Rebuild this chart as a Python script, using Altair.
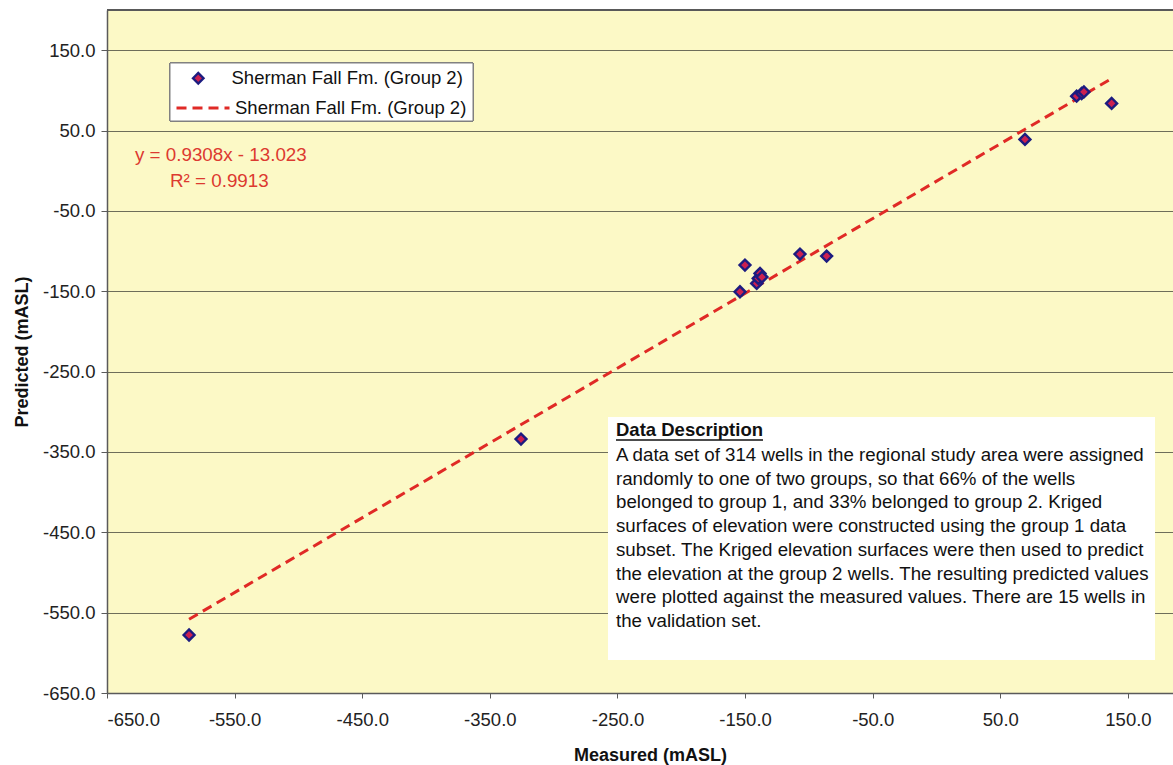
import altair as alt
import pandas as pd

# ---------------- data ----------------
measured = [-585.7, -325.6, -154.0, -150.1, -140.9, -139.7, -138.3, -136.8,
            -107.0, -86.1, 69.3, 109.8, 113.7, 115.5, 137.2]
predicted = [-577.8, -334.0, -150.7, -117.5, -140.3, -134.0, -127.8, -132.4,
             -103.8, -106.3, 38.9, 92.8, 96.1, 98.1, 83.7]
series_name = "Sherman Fall Fm. (Group 2)"
slope = 0.9308
intercept = -13.023
r_squared = 0.9913
x_ticks = [-650, -550, -450, -350, -250, -150, -50, 50, 150]
y_ticks = [-650, -550, -450, -350, -250, -150, -50, 50, 150]
description_title = "Data Description"
description_lines = [
    "A data set of 314 wells in the regional study area were assigned",
    "randomly to one of two groups, so that 66% of the wells",
    "belonged to group 1, and  33% belonged to group 2.  Kriged",
    "surfaces of elevation were constructed using the group 1 data",
    "subset.  The Kriged elevation surfaces were then used to predict",
    "the elevation at the group 2 wells. The resulting predicted values",
    "were plotted against the measured values. There are 15 wells in",
    "the validation set.",
]

# ---------------- frames ----------------
pts = pd.DataFrame({"measured": measured, "predicted": predicted,
                    "series": [series_name] * len(measured)})
x_ends = [min(measured), max(measured)]
fit = pd.DataFrame({"measured": x_ends,
                    "predicted": [slope * v + intercept for v in x_ends],
                    "fit": [series_name, series_name]})

W, H = 1066, 683
FONT = "Liberation Sans"
RED = "#e02a26"
EQ_RED = "#dc3a30"
NAVY = "#1c1c80"
PFILL = "#cc2050"
LABEL_EXPR = "(datum.value < 0 ? '-' : '') + format(abs(datum.value), '.1f')"

xscale = alt.Scale(domain=[-650, 185.3], nice=False, zero=False)
yscale = alt.Scale(domain=[-650, 200], nice=False, zero=False)

x_axis = alt.Axis(values=x_ticks, labelExpr=LABEL_EXPR, title="Measured (mASL)", grid=False,
                  domainColor="#5a5a5a", domainWidth=1.5, tickColor="#5a5a5a", tickSize=5,
                  labelFontSize=18.5, labelPadding=12, labelColor="#222222",
                  titleFontSize=18, titleFontWeight="bold", titleColor="#111111",
                  titleX=543, titleY=67, titleBaseline="alphabetic", titleAlign="center")
y_axis = alt.Axis(values=y_ticks, labelExpr=LABEL_EXPR, title="Predicted (mASL)", grid=True,
                  gridColor="#6e6e5a", gridWidth=1,
                  domainColor="#5a5a5a", domainWidth=1.5, tickColor="#5a5a5a", tickSize=6,
                  labelFontSize=18.5, labelPadding=6, labelColor="#222222",
                  titleFontSize=18, titleFontWeight="bold", titleColor="#111111",
                  titleX=-85, titleY=H / 2, titleAngle=270, titleBaseline="middle",
                  titleAlign="center")

base_axes = alt.Chart(pts).mark_point(opacity=0).encode(
    x=alt.X("measured:Q", scale=xscale, axis=x_axis),
    y=alt.Y("predicted:Q", scale=yscale, axis=y_axis),
)

top_border = alt.Chart(pts).mark_rule(color="#5a5a5a", strokeWidth=1.5).encode(
    x=alt.value(0), x2=alt.value(W), y=alt.value(0))

legend_box = alt.Chart(pts).mark_rect(fill="white", stroke="#808080", strokeWidth=1).encode(
    x=alt.value(63), x2=alt.value(366), y=alt.value(53), y2=alt.value(111))

desc_box = alt.Chart(pts).mark_rect(fill="white").encode(
    x=alt.value(501), x2=alt.value(1048), y=alt.value(407), y2=alt.value(650))

trend = alt.Chart(fit).mark_line(color=RED, strokeWidth=3, clip=True).encode(
    x=alt.X("measured:Q", scale=xscale),
    y=alt.Y("predicted:Q", scale=yscale),
    strokeDash=alt.StrokeDash("fit:N", scale=alt.Scale(range=[[10, 6]]),
                              legend=alt.Legend(orient="none", legendX=68, legendY=70,
                                                title=None, symbolType="stroke",
                                                symbolSize=2809, symbolStrokeColor=RED,
                                                symbolStrokeWidth=3, labelFontSize=18.5,
                                                labelFont=FONT, labelColor="#111111",
                                                labelOffset=4, labelLimit=500, padding=0)),
)

pt_legend = alt.Legend(orient="none", legendX=82, legendY=59, title=None, symbolSize=110,
                       symbolStrokeWidth=2.4, symbolOpacity=1,
                       labelFontSize=18.5, labelFont=FONT, labelColor="#111111",
                       labelOffset=24, labelLimit=500, padding=0)

points = alt.Chart(pts).mark_point(shape="diamond", filled=True, strokeWidth=2.4, size=120,
                                   opacity=1).encode(
    x=alt.X("measured:Q", scale=xscale),
    y=alt.Y("predicted:Q", scale=yscale),
    shape=alt.Shape("series:N", scale=alt.Scale(range=["diamond"]), legend=pt_legend),
    fill=alt.Fill("series:N", scale=alt.Scale(range=[PFILL]), legend=pt_legend),
    stroke=alt.Stroke("series:N", scale=alt.Scale(range=[NAVY]), legend=pt_legend),
)

eq_df = pd.DataFrame({"t": [f"y = {slope:.4f}x - {abs(intercept):.3f}"],
                      "r": [f"R\u00b2 = {r_squared:.4f}"]})
eq1 = alt.Chart(eq_df).mark_text(align="left", baseline="middle", fontSize=18.8,
                                 font=FONT, color=EQ_RED).encode(
    x=alt.value(28), y=alt.value(145), text="t:N")
eq2 = alt.Chart(eq_df).mark_text(align="left", baseline="middle", fontSize=18.8,
                                 font=FONT, color=EQ_RED).encode(
    x=alt.value(63), y=alt.value(171), text="r:N")

desc_df = pd.DataFrame({"h": [description_title]})
desc_head = alt.Chart(desc_df).mark_text(align="left", baseline="middle", fontSize=18.5,
                                         fontWeight="bold", font=FONT,
                                         color="#111111").encode(
    x=alt.value(509), y=alt.value(420), text="h:N")
underline = alt.Chart(desc_df).mark_rule(color="#111111", strokeWidth=1.3).encode(
    x=alt.value(509), x2=alt.value(656), y=alt.value(430))
desc_body = alt.Chart(desc_df).mark_text(align="left", baseline="middle", fontSize=18.7,
                                         font=FONT, color="#111111",
                                         text=description_lines,
                                         lineHeight=23.7).encode(
    x=alt.value(509), y=alt.value(445))

chart = alt.layer(
    base_axes, desc_box, legend_box, top_border, trend, points,
    eq1, eq2, desc_head, underline, desc_body,
).properties(
    width=W, height=H,
    padding={"left": 107, "top": 10, "right": 0, "bottom": 72},
    autosize=alt.AutoSizeParams(type="none"),
    background="white",
).configure_view(
    fill="#fcf9c6", stroke="transparent"
).configure_axis(
    labelFont=FONT, titleFont=FONT
)

chart.save("out.html", embed_options={"renderer": "svg", "actions": False})
